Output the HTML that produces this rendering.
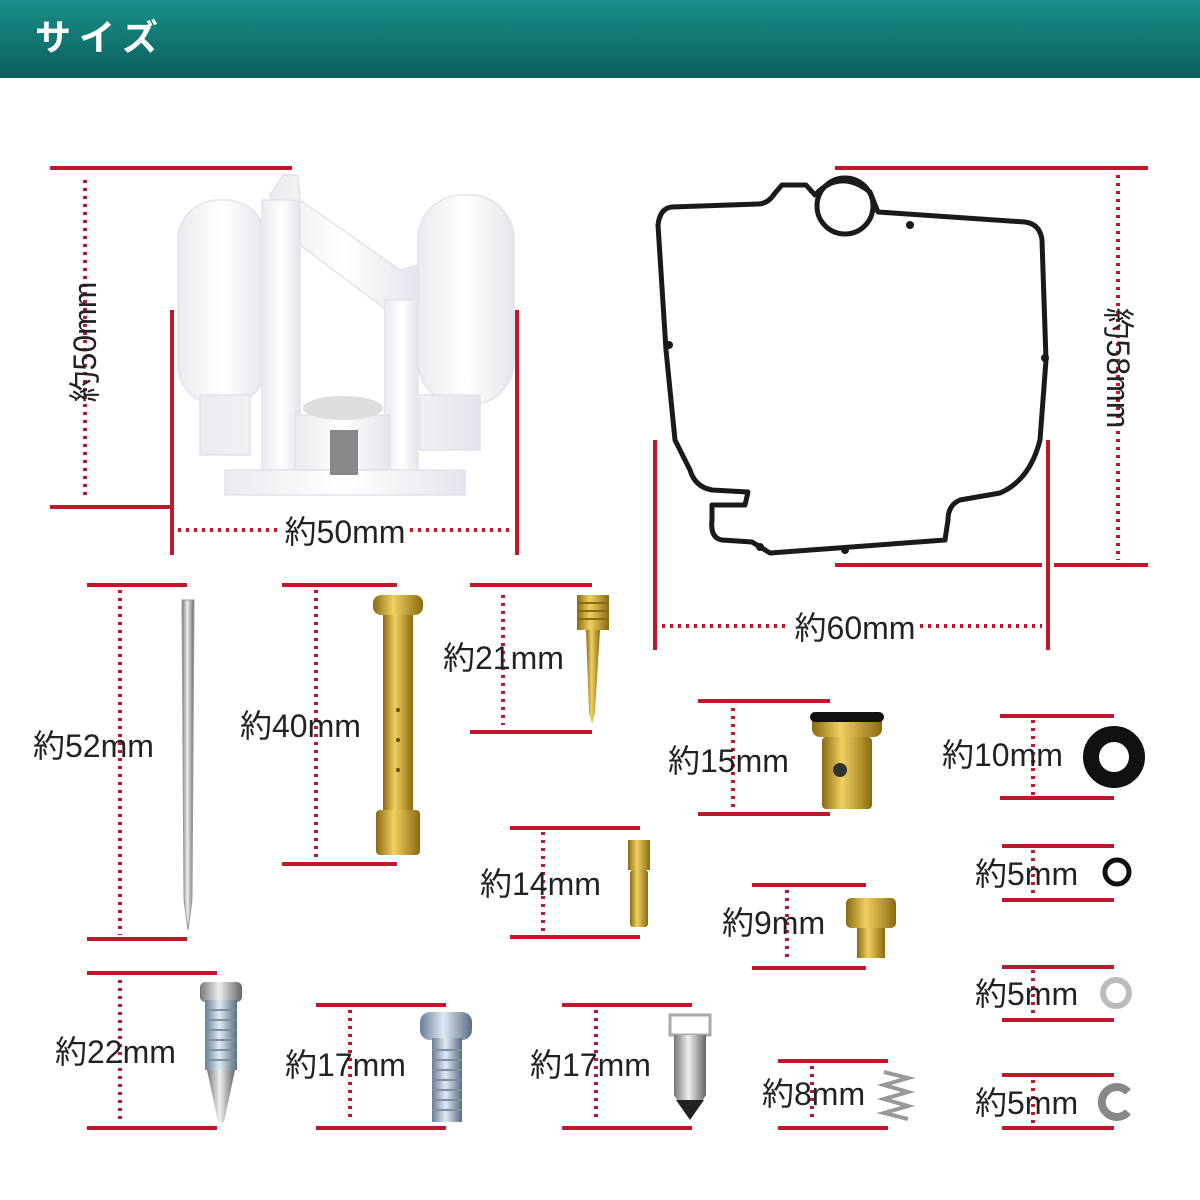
<!DOCTYPE html>
<html><head><meta charset="utf-8"><style>
body{margin:0;background:#fff}
svg{display:block}
text{font-family:"Liberation Sans","Noto Sans CJK JP",sans-serif;fill:#222;font-size:32px}
</style></head><body>
<svg width="1200" height="1200" viewBox="0 0 1200 1200" xmlns="http://www.w3.org/2000/svg">
<defs>
<linearGradient id="hd" x1="0" y1="0" x2="0" y2="1"><stop offset="0" stop-color="#1a8f8a"/><stop offset="1" stop-color="#0b5f5c"/></linearGradient>
<linearGradient id="gold" x1="0" y1="0" x2="1" y2="0"><stop offset="0" stop-color="#8a6a10"/><stop offset="0.4" stop-color="#f0d060"/><stop offset="1" stop-color="#8a6a10"/></linearGradient>
<linearGradient id="silv" x1="0" y1="0" x2="1" y2="0"><stop offset="0" stop-color="#777"/><stop offset="0.45" stop-color="#eee"/><stop offset="1" stop-color="#666"/></linearGradient>
<linearGradient id="zinc" x1="0" y1="0" x2="1" y2="0"><stop offset="0" stop-color="#6a7f95"/><stop offset="0.45" stop-color="#dfe8f2"/><stop offset="1" stop-color="#5a6e84"/></linearGradient>
<linearGradient id="wh" x1="0" y1="0" x2="1" y2="0"><stop offset="0" stop-color="#eaeaf0"/><stop offset="0.5" stop-color="#fff"/><stop offset="1" stop-color="#e4e4ec"/></linearGradient>
</defs>
<rect width="1200" height="78" fill="url(#hd)"/>
<text x="35" y="50" style="fill:#fff;font-size:36px;font-weight:bold;letter-spacing:8px">サイズ</text>

<g stroke="#c0182a" stroke-width="4" fill="none">
<path d="M50 168H292M50 507H170M172 310V555M517 310V555"/>
<path d="M835 168H1148M835 565H1042M1054 565H1148M655 440V650M1048 440V650"/>
<path d="M87 585H187M87 939H187M282 585H397M282 864H397M470 585H592M470 732H592M698 701H830M698 814H830M1000 716H1114M1000 798H1114M510 828H640M510 937H640M752 885H866M752 968H866M1002 846H1114M1002 900H1114M1002 967H1114M1002 1020H1114M1002 1075H1114M1002 1128H1114M87 973H217M87 1128H217M316 1005H446M316 1128H446M562 1005H692M562 1128H692M778 1061H888M778 1128H888"/>
</g>
<g stroke="#c0182a" stroke-width="4" stroke-dasharray="3 5" fill="none">
<path d="M85 180V497M1118 175V560M178 530H280M410 530H510M662 626H790M920 626H1042M120 590V935M316 590V860M503 595V725M733 708V808M1033 720V795M543 832V932M787 890V962M1033 850V897M1033 970V1017M1033 1080V1125M120 980V1122M350 1010V1122M596 1010V1122M812 1066V1122"/>
</g>

<text transform="translate(96 342) rotate(-90)" text-anchor="middle">約50mm</text>
<text x="345" y="543" text-anchor="middle">約50mm</text>
<text transform="translate(1107 368) rotate(90)" text-anchor="middle">約58mm</text>
<text x="855" y="639" text-anchor="middle">約60mm</text>
<text x="33" y="757">約52mm</text>
<text x="240" y="737">約40mm</text>
<text x="443" y="669">約21mm</text>
<text x="668" y="772">約15mm</text>
<text x="942" y="766">約10mm</text>
<text x="480" y="895">約14mm</text>
<text x="722" y="934">約9mm</text>
<text x="975" y="885">約5mm</text>
<text x="975" y="1005">約5mm</text>
<text x="975" y="1114">約5mm</text>
<text x="55" y="1063">約22mm</text>
<text x="285" y="1076">約17mm</text>
<text x="530" y="1076">約17mm</text>
<text x="762" y="1105">約8mm</text>

<!-- float part -->
<g fill="url(#wh)" stroke="#e2e2ea" stroke-width="1.5">
<rect x="178" y="200" width="88" height="205" rx="40"/>
<rect x="418" y="195" width="96" height="210" rx="44"/>
<path d="M270 195L283 175H298L300 200L400 270L418 265L418 300L400 320L300 245V300Z"/>
<path d="M262 200H300V480H262Z"/>
<path d="M385 300H418V480H385Z"/>
<path d="M225 470H465V495H225Z"/>
<path d="M200 395H250V455H200ZM420 395H480V450H420Z"/>
<path d="M295 415H390V470H295Z"/>
</g>
<ellipse cx="343" cy="408" rx="40" ry="12" fill="#ddd"/>
<rect x="330" y="430" width="28" height="45" fill="#888"/>

<!-- gasket part -->
<path d="M672 207L758 204Q768 204 775 193L782 185L806 185L815 195Q840 168 870 192L878 212L1025 222Q1040 224 1042 240L1046 360L1040 440Q1030 480 1000 493L960 500Q948 505 948 520L945 540L770 553L752 542L722 540Q710 538 712 520L712 505L745 505L748 492L712 490Q695 487 690 470L675 440L666 350L658 225Q660 208 672 207Z" fill="none" stroke="#1a1a1a" stroke-width="5" stroke-linejoin="round"/>
<circle cx="845" cy="206" r="28" fill="none" stroke="#1a1a1a" stroke-width="5"/>
<g fill="#1a1a1a"><circle cx="669" cy="345" r="4"/><circle cx="1045" cy="358" r="4"/><circle cx="910" cy="225" r="4"/><circle cx="845" cy="550" r="4"/><circle cx="760" cy="547" r="4"/></g>

<!-- needle -->
<path d="M182 600L194 600L192 900L188 930L184 900Z" fill="url(#silv)" stroke="#999"/>
<!-- tube -->
<rect x="383" y="600" width="30" height="255" fill="url(#gold)"/>
<rect x="373" y="595" width="50" height="20" rx="8" fill="url(#gold)"/>
<rect x="376" y="810" width="44" height="45" rx="4" fill="url(#gold)"/>
<g fill="#6a4e08"><circle cx="398" cy="710" r="2"/><circle cx="398" cy="740" r="2"/><circle cx="398" cy="770" r="2"/></g>
<!-- 21mm jet -->
<rect x="577" y="595" width="32" height="35" fill="url(#gold)"/>
<path d="M577 603H609M577 611H609M577 619H609" stroke="#8a6a10" stroke-width="2"/>
<path d="M586 630H600L595 712L592 725L589 712Z" fill="url(#gold)"/>
<!-- 15mm -->
<rect x="812" y="712" width="70" height="25" rx="8" fill="url(#gold)"/>
<rect x="810" y="712" width="74" height="10" rx="5" fill="#111"/>
<rect x="822" y="737" width="50" height="72" rx="4" fill="url(#gold)"/>
<circle cx="840" cy="770" r="7" fill="#333"/>
<!-- 10mm ring -->
<circle cx="1114" cy="757" r="23" fill="none" stroke="#111" stroke-width="16"/>
<!-- 14mm -->
<rect x="628" y="840" width="22" height="30" fill="url(#gold)"/>
<rect x="630" y="870" width="18" height="57" rx="3" fill="url(#gold)"/>
<!-- 9mm -->
<rect x="846" y="898" width="50" height="30" rx="5" fill="url(#gold)"/>
<rect x="857" y="928" width="28" height="30" fill="url(#gold)"/>
<!-- small rings -->
<circle cx="1117" cy="872" r="12" fill="none" stroke="#111" stroke-width="5"/>
<circle cx="1116" cy="993" r="13" fill="none" stroke="#bbb" stroke-width="6"/>
<path d="M1128 1092A15 15 0 1 0 1128 1112" fill="none" stroke="#888" stroke-width="8"/>
<!-- 22mm screw -->
<rect x="200" y="982" width="42" height="20" rx="5" fill="url(#silv)"/>
<rect x="205" y="1000" width="32" height="70" fill="url(#zinc)"/>
<path d="M205 1010H237M205 1020H237M205 1030H237M205 1040H237M205 1050H237M205 1060H237" stroke="#7c8ea2" stroke-width="2"/>
<path d="M207 1070H235L224 1122H218Z" fill="url(#silv)"/>
<!-- 17mm screw -->
<rect x="420" y="1012" width="52" height="28" rx="10" fill="url(#zinc)"/>
<rect x="432" y="1038" width="30" height="84" fill="url(#zinc)"/>
<path d="M432 1050H462M432 1060H462M432 1070H462M432 1080H462M432 1090H462M432 1100H462M432 1110H462" stroke="#7c8ea2" stroke-width="2"/>
<!-- needle valve -->
<rect x="670" y="1015" width="40" height="20" fill="none" stroke="#aaa" stroke-width="3"/>
<path d="M674 1035H706V1095L690 1120L674 1095Z" fill="url(#silv)"/>
<path d="M676 1100L704 1100L690 1120Z" fill="#222"/>
<!-- spring -->
<path d="M884 1072L908 1078L884 1085L908 1092L884 1099L908 1106L884 1113L908 1119" fill="none" stroke="#999" stroke-width="4"/>
</svg>
</body></html>
